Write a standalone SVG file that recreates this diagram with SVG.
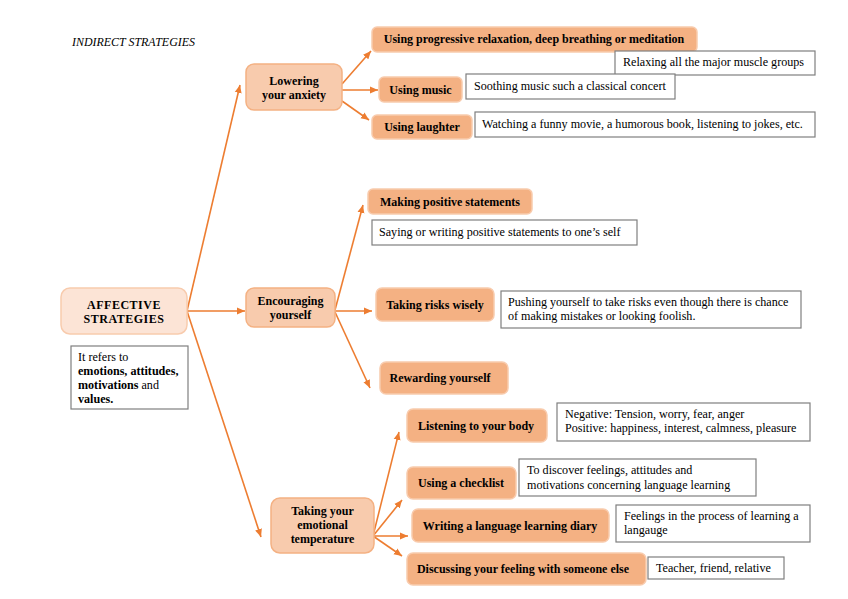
<svg xmlns="http://www.w3.org/2000/svg" width="848" height="599" viewBox="0 0 848 599">
<style>
text{font-family:"Liberation Serif","Times New Roman",serif;fill:#000}
.b{font-weight:bold;font-size:12px;text-anchor:middle}
.n{font-size:12.1px}
.main{fill:#FCE4D6;stroke:#F8CBAD;stroke-width:1.5}
.l1{fill:#F8CBAD;stroke:#F4B183;stroke-width:1.5}
.l2{fill:#F4B183;stroke:#F8CBAD;stroke-width:1.5}
.note{fill:#fff;stroke:#7F7F7F;stroke-width:1.2}
.c{stroke:#ED7D31;stroke-width:1.6;fill:none;marker-end:url(#ah)}
</style>
<defs>
<marker id="ah" markerUnits="userSpaceOnUse" markerWidth="9" markerHeight="8" refX="8" refY="4" orient="auto">
<path d="M0,0.5 L8,4 L0,7.5 z" fill="#ED7D31"/>
</marker>
</defs>
<rect width="848" height="599" fill="#fff"/>
<text x="72" y="46" font-style="italic" font-size="11.5px" textLength="123" lengthAdjust="spacingAndGlyphs">INDIRECT STRATEGIES</text>

<g id="connectors">
<line class="c" x1="187" y1="311" x2="240" y2="85"/>
<line class="c" x1="187" y1="311" x2="245" y2="311"/>
<line class="c" x1="187" y1="311" x2="261" y2="537"/>
<line class="c" x1="342" y1="84" x2="371" y2="51"/>
<line class="c" x1="342" y1="90" x2="378" y2="90"/>
<line class="c" x1="342" y1="101" x2="369" y2="120"/>
<line class="c" x1="335" y1="310" x2="363" y2="205"/>
<line class="c" x1="335" y1="311" x2="372" y2="311"/>
<line class="c" x1="335" y1="312" x2="370" y2="388"/>
<line class="c" x1="373" y1="536" x2="399" y2="432"/>
<line class="c" x1="373" y1="536" x2="402" y2="500"/>
<line class="c" x1="373" y1="536" x2="408" y2="536"/>
<line class="c" x1="373" y1="536" x2="402" y2="556"/>
</g>

<g id="affective">
<rect class="main" x="61" y="288" width="126" height="46" rx="9"/>
<text class="b" x="124" y="309" font-size="12.5px" letter-spacing="0.5">AFFECTIVE</text>
<text class="b" x="124" y="323" font-size="12.5px" letter-spacing="0.5">STRATEGIES</text>
</g>
<g id="affective-desc">
<rect class="note" x="71" y="346" width="117" height="63"/>
<text class="n" x="78" y="361">It refers to</text>
<text class="n" x="78" y="375"><tspan font-weight="bold">emotions, attitudes,</tspan></text>
<text class="n" x="78" y="389"><tspan font-weight="bold">motivations</tspan> and</text>
<text class="n" x="78" y="403"><tspan font-weight="bold">values.</tspan></text>
</g>

<g id="lowering">
<rect class="l1" x="246" y="64" width="96" height="46" rx="8"/>
<text class="b" x="294" y="85">Lowering</text>
<text class="b" x="294" y="99">your anxiety</text>
</g>
<g id="encouraging">
<rect class="l1" x="246" y="288" width="89" height="39" rx="8"/>
<text class="b" x="290.5" y="305">Encouraging</text>
<text class="b" x="290.5" y="319">yourself</text>
</g>
<g id="taking-temp">
<rect class="l1" x="271" y="498" width="103" height="55" rx="9"/>
<text class="b" x="322.5" y="515">Taking your</text>
<text class="b" x="322.5" y="529">emotional</text>
<text class="b" x="322.5" y="543">temperature</text>
</g>

<g id="progressive">
<rect class="l2" x="372" y="27" width="325" height="25" rx="5"/>
<text class="b" x="534" y="43">Using progressive relaxation, deep breathing or meditation</text>
</g>
<g id="progressive-note">
<rect class="note" x="615" y="51" width="200" height="24"/>
<text class="n" x="623" y="66">Relaxing all the major muscle groups</text>
</g>
<g id="music">
<rect class="l2" x="379" y="77" width="83" height="25" rx="5"/>
<text class="b" x="420.5" y="94">Using music</text>
</g>
<g id="music-note">
<rect class="note" x="466" y="74" width="209" height="25"/>
<text class="n" x="474" y="90">Soothing music such a classical concert</text>
</g>
<g id="laughter">
<rect class="l2" x="372" y="115" width="100" height="24" rx="5"/>
<text class="b" x="422" y="131">Using laughter</text>
</g>
<g id="laughter-note">
<rect class="note" x="475" y="112" width="340" height="25"/>
<text class="n" x="482" y="128">Watching a funny movie, a humorous book, listening to jokes, etc.</text>
</g>

<g id="positive">
<rect class="l2" x="368" y="189" width="164" height="25" rx="5"/>
<text class="b" x="450" y="206">Making positive statements</text>
</g>
<g id="positive-note">
<rect class="note" x="372" y="220" width="265" height="25"/>
<text class="n" x="379" y="236">Saying or writing positive statements to one’s self</text>
</g>
<g id="risks">
<rect class="l2" x="376" y="288" width="118" height="33" rx="6"/>
<text class="b" x="435" y="309">Taking risks wisely</text>
</g>
<g id="risks-note">
<rect class="note" x="501" y="291" width="300" height="37"/>
<text class="n" x="508" y="306">Pushing yourself to take risks even though there is chance</text>
<text class="n" x="508" y="320">of making mistakes or looking foolish.</text>
</g>
<g id="rewarding">
<rect class="l2" x="380" y="362" width="128" height="32" rx="6"/>
<text class="b" x="440" y="382">Rewarding yourself</text>
</g>

<g id="body">
<rect class="l2" x="407" y="409" width="140" height="33" rx="6"/>
<text class="b" x="476" y="430">Listening to your body</text>
</g>
<g id="body-note">
<rect class="note" x="557" y="403" width="253" height="38"/>
<text class="n" x="565" y="418">Negative: Tension, worry, fear, anger</text>
<text class="n" x="565" y="432">Positive: happiness, interest, calmness, pleasure</text>
</g>
<g id="checklist">
<rect class="l2" x="407" y="467" width="109" height="32" rx="6"/>
<text class="b" x="461" y="487">Using a checklist</text>
</g>
<g id="checklist-note">
<rect class="note" x="519" y="459" width="237" height="37"/>
<text class="n" x="527" y="474">To discover feelings, attitudes and</text>
<text class="n" x="527" y="489">motivations concerning language learning</text>
</g>
<g id="diary">
<rect class="l2" x="412" y="509" width="197" height="33" rx="6"/>
<text class="b" x="510" y="530">Writing a language learning diary</text>
</g>
<g id="diary-note">
<rect class="note" x="616" y="505" width="194" height="37"/>
<text class="n" x="624" y="520">Feelings in the process of learning a</text>
<text class="n" x="624" y="534">langauge</text>
</g>
<g id="discussing">
<rect class="l2" x="407" y="553" width="239" height="32" rx="6"/>
<text class="b" x="523" y="573">Discussing your feeling with someone else</text>
</g>
<g id="discussing-note">
<rect class="note" x="648" y="557" width="136" height="22"/>
<text class="n" x="656" y="572">Teacher, friend, relative</text>
</g>
</svg>
